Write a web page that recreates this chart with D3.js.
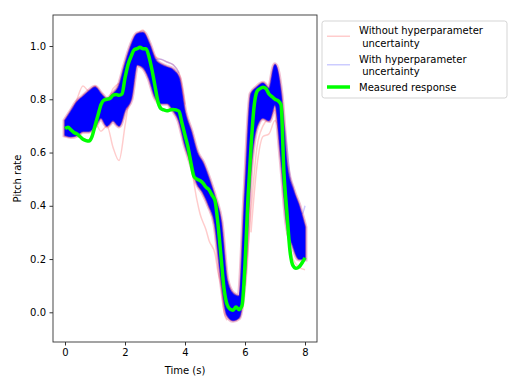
<!DOCTYPE html>
<html>
<head>
<meta charset="utf-8">
<script src="https://cdn.jsdelivr.net/npm/d3@7"></script>
<style>
  body { margin: 0; background: #fff; }
  text { font-family: "DejaVu Sans", sans-serif; }
</style>
</head>
<body>
<div id="chart"></div>
<script>
// Ensemble envelope (with hyperparameter uncertainty)
const bandTime = [0, 0.2, 0.4, 0.6, 0.8, 1.0, 1.2, 1.4, 1.6, 1.8, 2.0, 2.2, 2.4, 2.6, 2.8, 3.0, 3.2, 3.4, 3.6, 3.8,
  4.0, 4.2, 4.4, 4.6, 4.8, 5.0, 5.2, 5.4, 5.6, 5.8, 6.0, 6.2, 6.4, 6.6, 6.8, 7.0, 7.2, 7.4, 7.6, 7.8, 8.0];
const bandLow = [0.665, 0.66, 0.665, 0.68, 0.68, 0.70, 0.73, 0.70, 0.72, 0.70, 0.76, 0.80, 0.93, 0.92, 0.88, 0.81, 0.785, 0.785, 0.76, 0.72,
  0.63, 0.56, 0.485, 0.45, 0.40, 0.33, 0.13, -0.01, -0.03, -0.02, 0.15, 0.55, 0.70, 0.73, 0.72, 0.78, 0.58, 0.33, 0.25, 0.20, 0.20];
const bandHigh = [0.72, 0.755, 0.79, 0.81, 0.83, 0.845, 0.82, 0.80, 0.82, 0.85, 0.93, 1.0, 1.045, 1.05, 1.01, 0.95, 0.93, 0.92, 0.91, 0.88,
  0.75, 0.68, 0.60, 0.56, 0.50, 0.43, 0.34, 0.12, 0.07, 0.06, 0.45, 0.82, 0.845, 0.86, 0.84, 0.93, 0.82, 0.55, 0.46, 0.40, 0.32];

// Individual faint members that stick out of the band
const redOutliers = [
  { t: [0, 0.4, 0.8, 1.0, 1.2, 1.4, 1.6, 1.8, 2.0, 2.2], v: [0.67, 0.70, 0.75, 0.72, 0.68, 0.70, 0.62, 0.57, 0.70, 0.85] },
  { t: [0.2, 0.4, 0.6, 0.8, 1.0, 1.2, 1.4, 1.6, 1.8], v: [0.73, 0.80, 0.85, 0.83, 0.85, 0.80, 0.79, 0.84, 0.86] },
  { t: [2.4, 2.6, 2.8, 3.0, 3.2, 3.4, 3.6, 3.8, 4.0], v: [1.04, 1.06, 1.0, 0.96, 0.95, 0.94, 0.93, 0.90, 0.78] },
  { t: [3.6, 3.8, 4.0, 4.2, 4.4, 4.5, 4.7, 4.8, 5.0, 5.1, 5.2, 5.3, 5.4], v: [0.76, 0.72, 0.64, 0.55, 0.42, 0.37, 0.31, 0.27, 0.22, 0.15, 0.10, 0.0, -0.03] },
  { t: [6.0, 6.2, 6.4, 6.6, 6.8, 7.0, 7.2, 7.4], v: [0.10, 0.38, 0.62, 0.70, 0.73, 0.76, 0.60, 0.35] },
  { t: [6.2, 6.4, 6.6, 6.8, 7.0, 7.2], v: [0.30, 0.55, 0.66, 0.67, 0.72, 0.65] },
  { t: [7.4, 7.6, 7.8, 8.0], v: [0.30, 0.20, 0.17, 0.16] }
];
const blueOutliers = [
  { t: [7.2, 7.4, 7.5, 7.6, 7.8, 7.9, 8.0], v: [0.78, 0.62, 0.51, 0.47, 0.38, 0.37, 0.40] },
  { t: [3.0, 3.2, 3.4, 3.6, 3.8], v: [0.95, 0.95, 0.94, 0.93, 0.90] }
];

// Measured response
const measTime = d3.range(0, 81).map(i => i / 10);
const measured = [0.69, 0.695, 0.685, 0.675, 0.67, 0.66, 0.65, 0.645, 0.643, 0.66,
  0.70, 0.74, 0.78, 0.797, 0.80, 0.803, 0.815, 0.818, 0.815, 0.82,
  0.88, 0.93, 0.96, 0.985, 0.99, 0.995, 0.99, 0.99, 0.96, 0.91,
  0.85, 0.79, 0.765, 0.76, 0.757, 0.76, 0.762, 0.76, 0.755, 0.71,
  0.665, 0.62, 0.56, 0.51, 0.50, 0.495, 0.485, 0.47, 0.46, 0.44,
  0.42, 0.33, 0.21, 0.09, 0.03, 0.012, 0.008, 0.02, 0.01, 0.025,
  0.18, 0.43, 0.62, 0.77, 0.83, 0.84, 0.845, 0.84, 0.82, 0.81,
  0.80, 0.795, 0.78, 0.52, 0.37, 0.23, 0.175, 0.165, 0.17, 0.185, 0.205];

const xTicks = [0, 2, 4, 6, 8];
const yTicks = [0.0, 0.2, 0.4, 0.6, 0.8, 1.0];
const legendItems = [
  { lines: ["Without hyperparameter", " uncertainty"], color: "rgba(255,0,0,0.2)", width: 1.5 },
  { lines: ["With hyperparameter", " uncertainty"], color: "rgba(0,0,255,0.2)", width: 1.5 },
  { lines: ["Measured response"], color: "#00ff00", width: 3.5 }
];

const W = 519, H = 389;
const plot = { left: 53, right: 317, top: 15, bottom: 342 };

const svg = d3.select("#chart").append("svg")
  .attr("width", W)
  .attr("height", H);

const x = d3.scaleLinear().domain([-0.4, 8.4]).range([plot.left, plot.right]);
const y = d3.scaleLinear().domain([-0.1115, 1.1165]).range([plot.bottom, plot.top]);

svg.append("clipPath").attr("id", "clip")
  .append("rect")
  .attr("x", plot.left).attr("y", plot.top)
  .attr("width", plot.right - plot.left).attr("height", plot.bottom - plot.top);

const g = svg.append("g").attr("clip-path", "url(#clip)");

const line = d3.line()
  .x(d => x(d[0]))
  .y(d => y(d[1]))
  .curve(d3.curveMonotoneX);

const area = d3.area()
  .x(d => x(d.t))
  .y0(d => y(d.lo))
  .y1(d => y(d.hi))
  .curve(d3.curveMonotoneX);

const bandData = bandTime.map((t, i) => ({ t, lo: bandLow[i], hi: bandHigh[i] }));

// faint red members
redOutliers.forEach(s => {
  g.append("path")
    .attr("d", line(s.t.map((t, i) => [t, s.v[i]])))
    .attr("fill", "none")
    .attr("stroke", "rgba(255,0,0,0.2)")
    .attr("stroke-width", 1.5);
});

// soft red/purple fringe around the band
g.append("path")
  .attr("d", area(bandData))
  .attr("fill", "none")
  .attr("stroke", "rgba(200,0,80,0.25)")
  .attr("stroke-width", 5);
g.append("path")
  .attr("d", area(bandData))
  .attr("fill", "none")
  .attr("stroke", "rgba(110,0,130,0.5)")
  .attr("stroke-width", 2.5);

// the dense blue band
g.append("path")
  .attr("d", area(bandData))
  .attr("fill", "#0000ff")
  .attr("stroke", "rgba(0,0,255,0.7)")
  .attr("stroke-width", 1);

blueOutliers.forEach(s => {
  g.append("path")
    .attr("d", line(s.t.map((t, i) => [t, s.v[i]])))
    .attr("fill", "none")
    .attr("stroke", "rgba(0,0,255,0.2)")
    .attr("stroke-width", 1.5);
});

// measured response
g.append("path")
  .attr("d", line(measTime.map((t, i) => [t, measured[i]])))
  .attr("fill", "none")
  .attr("stroke", "#00ff00")
  .attr("stroke-width", 3.5)
  .attr("stroke-linejoin", "round");

// axes
const xAxis = svg.append("g")
  .attr("transform", `translate(0,${plot.bottom})`)
  .call(d3.axisBottom(x).tickValues(xTicks).tickFormat(d3.format("d")).tickSize(3.5).tickPadding(3.5));
const yAxis = svg.append("g")
  .attr("transform", `translate(${plot.left},0)`)
  .call(d3.axisLeft(y).tickValues(yTicks).tickFormat(d3.format(".1f")).tickSize(3.5).tickPadding(3.5));

[xAxis, yAxis].forEach(a => {
  a.select(".domain").remove();
  a.selectAll("text").attr("font-size", "10px").attr("fill", "#000")
    .attr("font-family", "DejaVu Sans, sans-serif");
  a.selectAll("line").attr("stroke", "#000").attr("stroke-width", 0.8);
});

svg.append("rect")
  .attr("x", plot.left).attr("y", plot.top)
  .attr("width", plot.right - plot.left).attr("height", plot.bottom - plot.top)
  .attr("fill", "none")
  .attr("stroke", "#333")
  .attr("stroke-width", 0.9);

// axis labels
svg.append("text")
  .attr("x", (plot.left + plot.right) / 2)
  .attr("y", 374)
  .attr("text-anchor", "middle")
  .attr("font-size", "10px")
  .text("Time (s)");

svg.append("text")
  .attr("transform", `translate(21,${(plot.top + plot.bottom) / 2}) rotate(-90)`)
  .attr("text-anchor", "middle")
  .attr("font-size", "10px")
  .text("Pitch rate");

// legend
const legend = svg.append("g");
legend.append("rect")
  .attr("x", 322).attr("y", 21)
  .attr("width", 185).attr("height", 77)
  .attr("rx", 2.5)
  .attr("fill", "rgba(255,255,255,0.8)")
  .attr("stroke", "#d0d0d0")
  .attr("stroke-width", 0.9);

let ly = 34;
legendItems.forEach(item => {
  const n = item.lines.length;
  const cy = ly - 4 + (n - 1) * 12.5 / 2;
  legend.append("line")
    .attr("x1", 327).attr("x2", 350)
    .attr("y1", cy).attr("y2", cy)
    .attr("stroke", item.color)
    .attr("stroke-width", item.width);
  item.lines.forEach((txt, j) => {
    legend.append("text")
      .attr("x", 359)
      .attr("y", ly + j * 12.5)
      .attr("font-size", "10px")
      .attr("xml:space", "preserve")
      .style("white-space", "pre")
      .text(txt);
  });
  ly += n * 12.5 + 3.5;
});
</script>
</body>
</html>
